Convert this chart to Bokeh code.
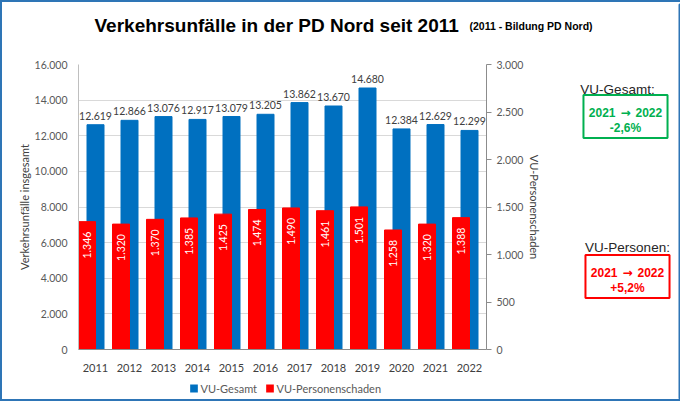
import math
from bokeh.plotting import figure
from bokeh.models import Range1d, LinearAxis, FixedTicker, Label, ColumnDataSource
from bokeh.transform import dodge
from bokeh.core.properties import value
from bokeh.embed import file_html
from bokeh.resources import INLINE

years = ["2011", "2012", "2013", "2014", "2015", "2016", "2017", "2018", "2019", "2020", "2021", "2022"]
vu_gesamt = [12619, 12866, 13076, 12917, 13079, 13205, 13862, 13670, 14680, 12384, 12629, 12299]
vu_personen = [1346, 1320, 1370, 1385, 1425, 1474, 1490, 1461, 1501, 1258, 1320, 1388]
left_ticks = [0, 2000, 4000, 6000, 8000, 10000, 12000, 14000, 16000]
right_ticks = [0, 500, 1000, 1500, 2000, 2500, 3000]
series_names = ["VU-Gesamt", "VU-Personenschaden"]

def de(n):
    return f"{n:,}".replace(",", ".")

src = ColumnDataSource(dict(
    year=years, g=vu_gesamt, p=vu_personen,
    gl=[de(v) for v in vu_gesamt], pl=[de(v) for v in vu_personen],
))

BLUE = "#0070C0"
RED = "#FF0000"
GREEN = "#00B050"
GRAY = "#595959"
FONT = "Lato"
ARIAL = "Liberation Sans"

p = figure(x_range=years, y_range=Range1d(0, 16000), frame_width=408, frame_height=285,
           output_backend="svg", toolbar_location=None,
           min_border_left=76, min_border_right=191, min_border_top=62, min_border_bottom=50)
p.extra_y_ranges = {"right": Range1d(0, 3000)}

p.outline_line_color = None
p.xgrid.grid_line_color = None
p.ygrid.grid_line_color = "#d9d9d9"
p.ygrid.ticker = FixedTicker(ticks=left_ticks)

p.vbar(x="year", top="g", width=0.5, color=BLUE, source=src)
p.vbar(x=dodge("year", -0.25, range=p.x_range), top="p", width=0.5, color=RED,
       source=src, y_range_name="right")

p.text(x="year", y="g", text="gl", source=src, text_align="center", text_baseline="bottom",
       y_offset=-5, text_font=value(FONT), text_font_size="10.5px", text_color="#404040")
p.text(x=dodge("year", -0.25, range=p.x_range), y="p", text="pl", source=src,
       y_range_name="right", angle=math.pi / 2, text_align="right", text_baseline="middle",
       y_offset=10, text_font=value(FONT), text_font_size="10.5px", text_color="white")

ya = p.yaxis[0]
ya.ticker = FixedTicker(ticks=left_ticks)
ya.major_label_overrides = {t: de(t) for t in left_ticks}
ya.axis_label = "Verkehrsunfälle insgesamt"
ya.axis_label_text_font = FONT
ya.axis_label_text_font_style = "normal"
ya.axis_label_text_font_size = "11px"
ya.axis_label_text_color = "#404040"
ya.axis_label_standoff = 1
ya.major_label_text_font = FONT
ya.major_label_text_font_size = "10.5px"
ya.major_label_text_color = GRAY
ya.axis_line_color = "#bfbfbf"
ya.major_tick_line_color = None
ya.minor_tick_line_color = None

ra = LinearAxis(y_range_name="right", ticker=FixedTicker(ticks=right_ticks))
ra.major_label_overrides = {t: de(t) for t in right_ticks}
ra.axis_label = "VU-Personenschaden"
ra.axis_label_text_font = FONT
ra.axis_label_text_font_style = "normal"
ra.axis_label_text_font_size = "11px"
ra.axis_label_text_color = "#404040"
ra.axis_label_standoff = 2
ra.major_label_text_font = FONT
ra.major_label_text_font_size = "10.5px"
ra.major_label_text_color = GRAY
ra.axis_line_color = "#8c8c8c"
ra.major_tick_line_color = "#8c8c8c"
ra.major_tick_in = 0
ra.major_tick_out = 5
ra.minor_tick_line_color = None
p.add_layout(ra, "right")

xa = p.xaxis[0]
xa.axis_line_color = "#8c8c8c"
xa.major_tick_line_color = None
xa.minor_tick_line_color = None
xa.major_label_text_font = FONT
xa.major_label_text_font_size = "11px"
xa.major_label_text_color = "#404040"
xa.major_label_standoff = 8

# texts outside the plot frame live in side panels (canvas coordinates)
def lab(x, y, text, font, size, color, style="normal", align="center", baseline="middle",
        panel="right", **kw):
    p.add_layout(Label(x=x, y=y, x_units="canvas", y_units="canvas", text=text,
                       text_font=font, text_font_style=style, text_font_size=size,
                       text_color=color, text_align=align, text_baseline=baseline, **kw), panel)

# title
lab(90, 21, "Verkehrsunfälle in der PD Nord seit 2011", ARIAL, "19px", "black", "bold",
    align="left", baseline="alphabetic", panel="above")
lab(465, 21, "(2011 - Bildung PD Nord)", ARIAL, "10.5px", "black", "bold",
    align="left", baseline="alphabetic", panel="above")

# legend
for sx, color, name in [(189.5, BLUE, series_names[0]), (265.5, RED, series_names[1])]:
    lab(sx, 384, "W", ARIAL, "6px", color, padding=1, background_fill_color=color)
    lab(sx + 6.5, 384, name, FONT, "11px", GRAY, align="left")

# change boxes
def change_box(cx, cy, color, pct):
    lab(cx, cy + 4, "2021 → 2022\n" + pct, ARIAL, "12px", "white", "bold",
        padding=6, text_line_height=1.2, border_line_color=color, border_line_width=2,
        background_fill_color="white")
    lab(cx - 10, cy, "2021", ARIAL, "12px", color, "bold", align="right")
    lab(cx, cy, "→", "DejaVu Sans", "12px", color, "bold")
    lab(cx + 10, cy, "2022", ARIAL, "12px", color, "bold", align="left")
    lab(cx, cy + 15, pct, ARIAL, "12px", color, "bold")

lab(613, 85, "VU-Gesamt:", ARIAL, "13.5px", "#262626")
change_box(621, 108, GREEN, "-2,6%")
lab(623, 243, "VU-Personen:", ARIAL, "13.5px", "#262626")
change_box(623, 268, RED, "+5,2%")

# right edge of the outer border
lab(675, 0, "W", ARIAL, "352px", "white", align="left", baseline="top",
    border_line_color="#2E75B6", border_line_width=2)

p.styles = {"border": "2px solid #2E75B6", "box-sizing": "border-box"}

open("out.html", "w").write(file_html(p, INLINE))
